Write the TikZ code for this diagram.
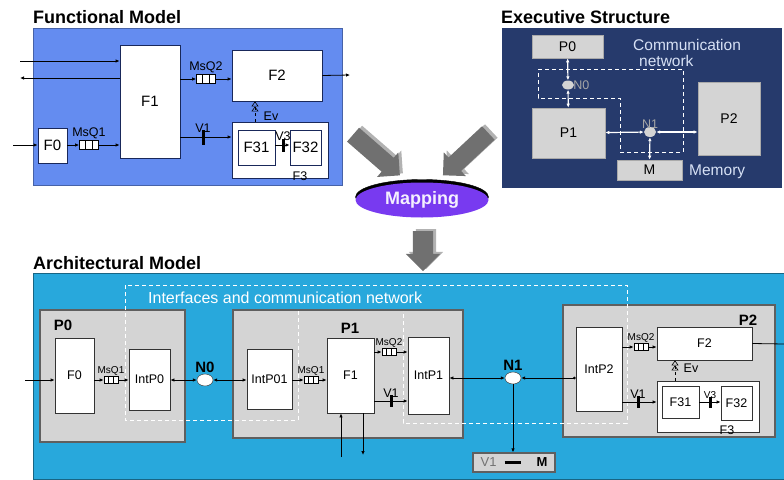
\documentclass[tikz,border=0pt]{standalone}
\usepackage{fontspec}
\setmainfont{Liberation Sans}
\usetikzlibrary{shapes.geometric, shapes.arrows, shadows, arrows.meta}

\definecolor{fmblue}{RGB}{100,140,240}
\definecolor{esnavy}{RGB}{38,58,108}
\definecolor{amcyan}{RGB}{40,168,220}
\definecolor{pgray}{RGB}{212,212,212}
\definecolor{pedge}{RGB}{95,95,95}
\definecolor{lineblue}{RGB}{25,40,90}
\definecolor{mapviolet}{RGB}{120,58,240}
\definecolor{arrowgray}{RGB}{112,112,112}
\definecolor{arrowlight}{RGB}{178,178,178}
\definecolor{netwhite}{RGB}{215,225,245}

\tikzset{
  fbox/.style={draw=lineblue, fill=white, line width=0.8pt, inner sep=0pt, font=\fontsize{15}{17}\selectfont},
  abox/.style={fbox, draw=black!80, font=\fontsize{12.5}{14}\selectfont},
  pbox/.style={draw=pedge, fill=pgray, line width=2.5pt, inner sep=0pt},
  ebox/.style={fill=pgray, draw=pgray!80!black, line width=0.6pt, inner sep=0pt, font=\fontsize{14}{16}\selectfont},
  queue/.style={draw, fill=white, line width=0.7pt, minimum width=14pt, minimum height=7pt, inner sep=0pt,
    path picture={
      \draw ([xshift=-0.17*\pgfkeysvalueof{/pgf/minimum width}]path picture bounding box.north) -- ([xshift=-0.17*\pgfkeysvalueof{/pgf/minimum width}]path picture bounding box.south);
      \draw ([xshift=0.17*\pgfkeysvalueof{/pgf/minimum width}]path picture bounding box.north) -- ([xshift=0.17*\pgfkeysvalueof{/pgf/minimum width}]path picture bounding box.south);
    }},
  bigqueue/.style={queue, minimum width=19pt, minimum height=9pt},
  valve/.style={fill=black, minimum width=3pt, minimum height=13pt, inner sep=0pt},
  netnode/.style={ellipse, draw=black!80, fill=white, inner sep=0pt, minimum width=16pt, minimum height=12pt},
  title/.style={anchor=west, inner sep=0pt, font=\bfseries\fontsize{18}{20}\selectfont},
  tag/.style={font=\fontsize{12.5}{14}\selectfont, inner sep=1pt},
  smalltag/.style={font=\fontsize{10}{11}\selectfont, inner sep=1pt},
  plabel/.style={font=\bfseries\fontsize{15}{17}\selectfont},
  bigarrow/.style={single arrow, fill=arrowgray, inner sep=0pt, inner ysep=9pt, single arrow head extend=7pt,
    copy shadow={shadow xshift=3pt, shadow yshift=2pt, fill=arrowlight, draw=none}},
  mapping/.style={ellipse, fill=mapviolet, minimum width=133pt, minimum height=35pt, inner sep=0pt, text=white!92!mapviolet,
    font=\bfseries\fontsize{18}{20}\selectfont, copy shadow={shadow xshift=0pt, shadow yshift=3pt, fill=black}},
  flow/.style={->, line width=0.8pt},
  alink/.style={<->, line width=0.8pt},
  elink/.style={<->, white, line width=1.2pt},
  evflow/.style={dashed, line width=0.6pt, -{Triangle[open,length=5pt,width=7pt] Triangle[open,length=5pt,width=7pt]}},
  netline/.style={white, line width=1pt, dash pattern=on 4pt off 3pt},
}

\begin{document}
\begin{tikzpicture}[x=1pt, y=-1pt, >={Latex[length=4pt,width=3.5pt]}]
\useasboundingbox (0,0) rectangle (784,479);

% Functional model
\node[title] (ftitle) at (33,17) {Functional Model};
\filldraw[fill=fmblue, draw=fmblue!70!black] (33,28) rectangle (342,185);
\node[fbox, minimum width=60, minimum height=113] (F1) at (150,101.5) {F1};
\node[fbox, minimum width=90, minimum height=51] (F2) at (277,75.5) {F2};
\node[fbox, minimum width=29, minimum height=35] (F0) at (52.5,145.5) {F0};
\node[fbox, minimum width=96, minimum height=56, label={[tag, anchor=south, xshift=20, yshift=-2, inner sep=0pt]south:F3}] (F3) at (280,150) {};
\node[fbox, minimum width=37, minimum height=35] (F31) at (256.5,147.5) {F31};
\node[fbox, minimum width=31, minimum height=35] (F32) at (305.5,147.5) {F32};
\node[bigqueue, label={[tag]above:MsQ1}] (q1) at (89,145) {};
\node[bigqueue, label={[tag]above:MsQ2}] (q2) at (206,79) {};
\node[valve, minimum height=15, label={[tag, yshift=-4]above:V1}] (v1) at (203,137) {};
\node[valve, label={[tag, yshift=-4]above:V3}] (v3) at (283,145) {};
\node[tag] (ev) at (271,116) {Ev};

% Functional model flows
\coordinate (fin1) at (20,61);
\coordinate (fout1) at (20,78);
\coordinate (fin0) at (13,145);
\coordinate (fout2) at (350,75);
\coordinate (evx) at (255,0);
\draw[flow] (fin1) -- (fin1 -| F1.west);
\draw[flow] (fout1 -| F1.west) -- (fout1);
\draw[flow] (fin0) -- (fin0 -| F0.west);
\draw[flow] (F0.east |- q1) -- (q1.west);
\draw[flow] (q1.east) -- (q1 -| F1.west);
\draw[flow] (q2 -| F1.east) -- (q2.west);
\draw[flow] (q2.east) -- (q2 -| F2.west);
\draw[flow] (v1 -| F1.east) -- (v1 -| F3.west);
\draw[flow] (F31.east |- v3) -- (v3 -| F32.west);
\draw[evflow] (F3.north -| evx) -- (F2.south -| evx);
\draw[flow] (F2.east) -- (fout2);

% Executive structure
\node[title] (etitle) at (501,17) {Executive Structure};
\fill[esnavy] (502,28) rectangle (782,188);
\draw[netline] (538,69) -- (683,69) -- (683,152) -- (620,152) -- (620,98) -- (538,98) -- cycle;
\node[ebox, minimum width=71, minimum height=23] (P0) at (567.5,46.5) {P0};
\node[ebox, minimum width=73, minimum height=50] (P1) at (568.5,133) {P1};
\node[ebox, minimum width=62, minimum height=73] (P2) at (729,118.5) {P2};
\node[ebox, minimum width=65, minimum height=20] (M) at (649.5,170) {M};
\node[netnode, fill=pgray, draw=none, minimum width=12, minimum height=9, label={[tag, text=gray!70, xshift=-2]right:N0}] (N0) at (568,85) {};
\node[netnode, fill=pgray, draw=none, minimum width=12, minimum height=10, label={[tag, text=gray!70, yshift=-3]above:N1}] (N1) at (650,132) {};
\node[anchor=west, text=netwhite, align=left, font=\fontsize{15.5}{16}\selectfont, inner sep=0pt] (comm) at (633,53) {Communication\\\hspace*{6pt}network};
\node[anchor=west, text=netwhite, font=\fontsize{15.5}{17}\selectfont, inner sep=0pt] (memory) at (689,172) {Memory};
\draw[elink] (P0) -- (N0);
\draw[elink] (N0) -- (P1);
\draw[elink] (P1) -- (N1);
\draw[elink] (N1) -- (N1 -| P2.west);
\draw[elink] (N1) -- (M);

% Mapping
\node[bigarrow, minimum height=62, rotate=-41] (mapL) at (373,152) {};
\node[bigarrow, minimum height=62, rotate=-137] (mapR) at (469,151) {};
\node[mapping] (map) at (422,200) {Mapping};
\node[bigarrow, minimum height=40, inner ysep=10pt, rotate=-90] (mapD) at (423,246) {};

% Architectural model
\node[title] (atitle) at (33,263) {Architectural Model};
\filldraw[fill=amcyan, draw=amcyan!60!black] (33,273) rectangle (784,479);
\node[pbox, minimum width=145, minimum height=132] (aP0) at (112.5,376) {};
\node[pbox, minimum width=230, minimum height=128] (aP1) at (348,374) {};
\node[pbox, minimum width=212, minimum height=132] (aP2) at (669,371) {};
\draw[netline] (298,311) -- (298,420) -- (125,420) -- (125,285) -- (627,285) -- (627,423) -- (403,423) -- (403,311);
\node[anchor=west, text=white, font=\fontsize{16}{18}\selectfont, inner sep=0pt] (ifc) at (148,298) {Interfaces and communication network};
\node[plabel] (aP0lbl) at (63,325) {P0};
\node[plabel] (aP1lbl) at (350,328) {P1};
\node[plabel] (aP2lbl) at (748,320) {P2};

% P0
\node[abox, minimum width=39, minimum height=75] (aF0) at (74.5,375.5) {F0};
\node[abox, minimum width=41, minimum height=61] (IntP0) at (149.5,379.5) {IntP0};
\node[queue, label={[smalltag]above:MsQ1}] (aq1) at (111,380) {};
\node[netnode, label={[plabel, yshift=-2]above:N0}] (aN0) at (205,380) {};

% P1
\node[abox, minimum width=45, minimum height=60] (IntP01) at (269.5,379) {IntP01};
\node[abox, minimum width=47, minimum height=75] (aF1) at (350.5,375.5) {F1};
\node[abox, minimum width=41, minimum height=77] (IntP1) at (428.5,375.5) {IntP1};
\node[queue, label={[smalltag]above:MsQ1}] (bq1) at (311,380) {};
\node[queue, label={[smalltag]above:MsQ2}] (bq2) at (389,352) {};
\node[valve, minimum height=12, label={[tag, yshift=-4]above:V1}] (bv1) at (391,401) {};
\node[netnode, label={[plabel, yshift=-2]above:N1}] (aN1) at (513,378) {};
\node[ebox, draw=pedge, line width=1.2pt, minimum width=82, minimum height=19, font=\fontsize{13}{15}\selectfont] (VM) at (514,462.5)
  {{\color{black!55}V1}\hspace{8pt}\rule[3pt]{16pt}{2.5pt}\hspace{16pt}\textbf{M}};

% P2
\node[abox, minimum width=46, minimum height=84] (IntP2) at (599,369) {IntP2};
\node[abox, minimum width=95, minimum height=33] (aF2) at (704.5,343.5) {F2};
\node[abox, minimum width=102, minimum height=51, label={[tag, anchor=south, xshift=19, yshift=-2, inner sep=0pt]south:F3}] (aF3) at (708,406.5) {};
\node[abox, minimum width=37, minimum height=32] (aF31) at (680.5,402) {F31};
\node[abox, minimum width=31, minimum height=34] (aF32) at (736.5,403) {F32};
\node[queue, label={[smalltag]above:MsQ2}] (cq2) at (641,347) {};
\node[valve, minimum height=12, label={[tag, yshift=-4]above:V1}] (cv1) at (638,402) {};
\node[valve, minimum height=11, label={[smalltag, yshift=-3]above:V3}] (cv3) at (710,402) {};
\node[tag] (aev) at (691,368) {Ev};

% Architectural model flows
\coordinate (ain0) at (25,380);
\coordinate (f1in) at (341,457);
\coordinate (f1out) at (363,455);
\coordinate (aout2) at (784,344);
\coordinate (aevx) at (675,0);
\draw[flow] (ain0) -- (ain0 -| aF0.west);
\draw[flow] (aF0.east |- aq1) -- (aq1.west);
\draw[flow] (aq1.east) -- (aq1 -| IntP0.west);
\draw[alink] (IntP0.east |- aN0) -- (aN0.west);
\draw[alink] (aN0.east) -- (aN0 -| IntP01.west);
\draw[flow] (IntP01.east |- bq1) -- (bq1.west);
\draw[flow] (bq1.east) -- (bq1 -| aF1.west);
\draw[flow] (aF1.east |- bq2) -- (bq2.west);
\draw[flow] (bq2.east) -- (bq2 -| IntP1.west);
\draw[flow] (aF1.east |- bv1) -- (bv1 -| IntP1.west);
\draw[flow] (f1in) -- (f1in |- aF1.south);
\draw[flow] (f1out |- aF1.south) -- (f1out);
\draw[alink] (IntP1.east |- aN1) -- (aN1.west);
\draw[line width=0.8pt, {Latex[length=4pt,width=3.5pt]}-{Circle[length=2.5pt]}] (aN1.east) -- (aN1 -| IntP2.west);
\draw[flow] (aN1.south) -- (aN1.south |- VM.north);
\draw[flow] (IntP2.east |- cq2) -- (cq2.west);
\draw[flow] (cq2.east) -- (cq2 -| aF2.west);
\draw[flow] (IntP2.east |- cv1) -- (cv1 -| aF3.west);
\draw[flow] (aF31.east |- cv3) -- (cv3 -| aF32.west);
\draw[evflow] (aF3.north -| aevx) -- (aF2.south -| aevx);
\draw[line width=0.8pt] (aF2.east) -- (aout2);
\end{tikzpicture}
\end{document}
